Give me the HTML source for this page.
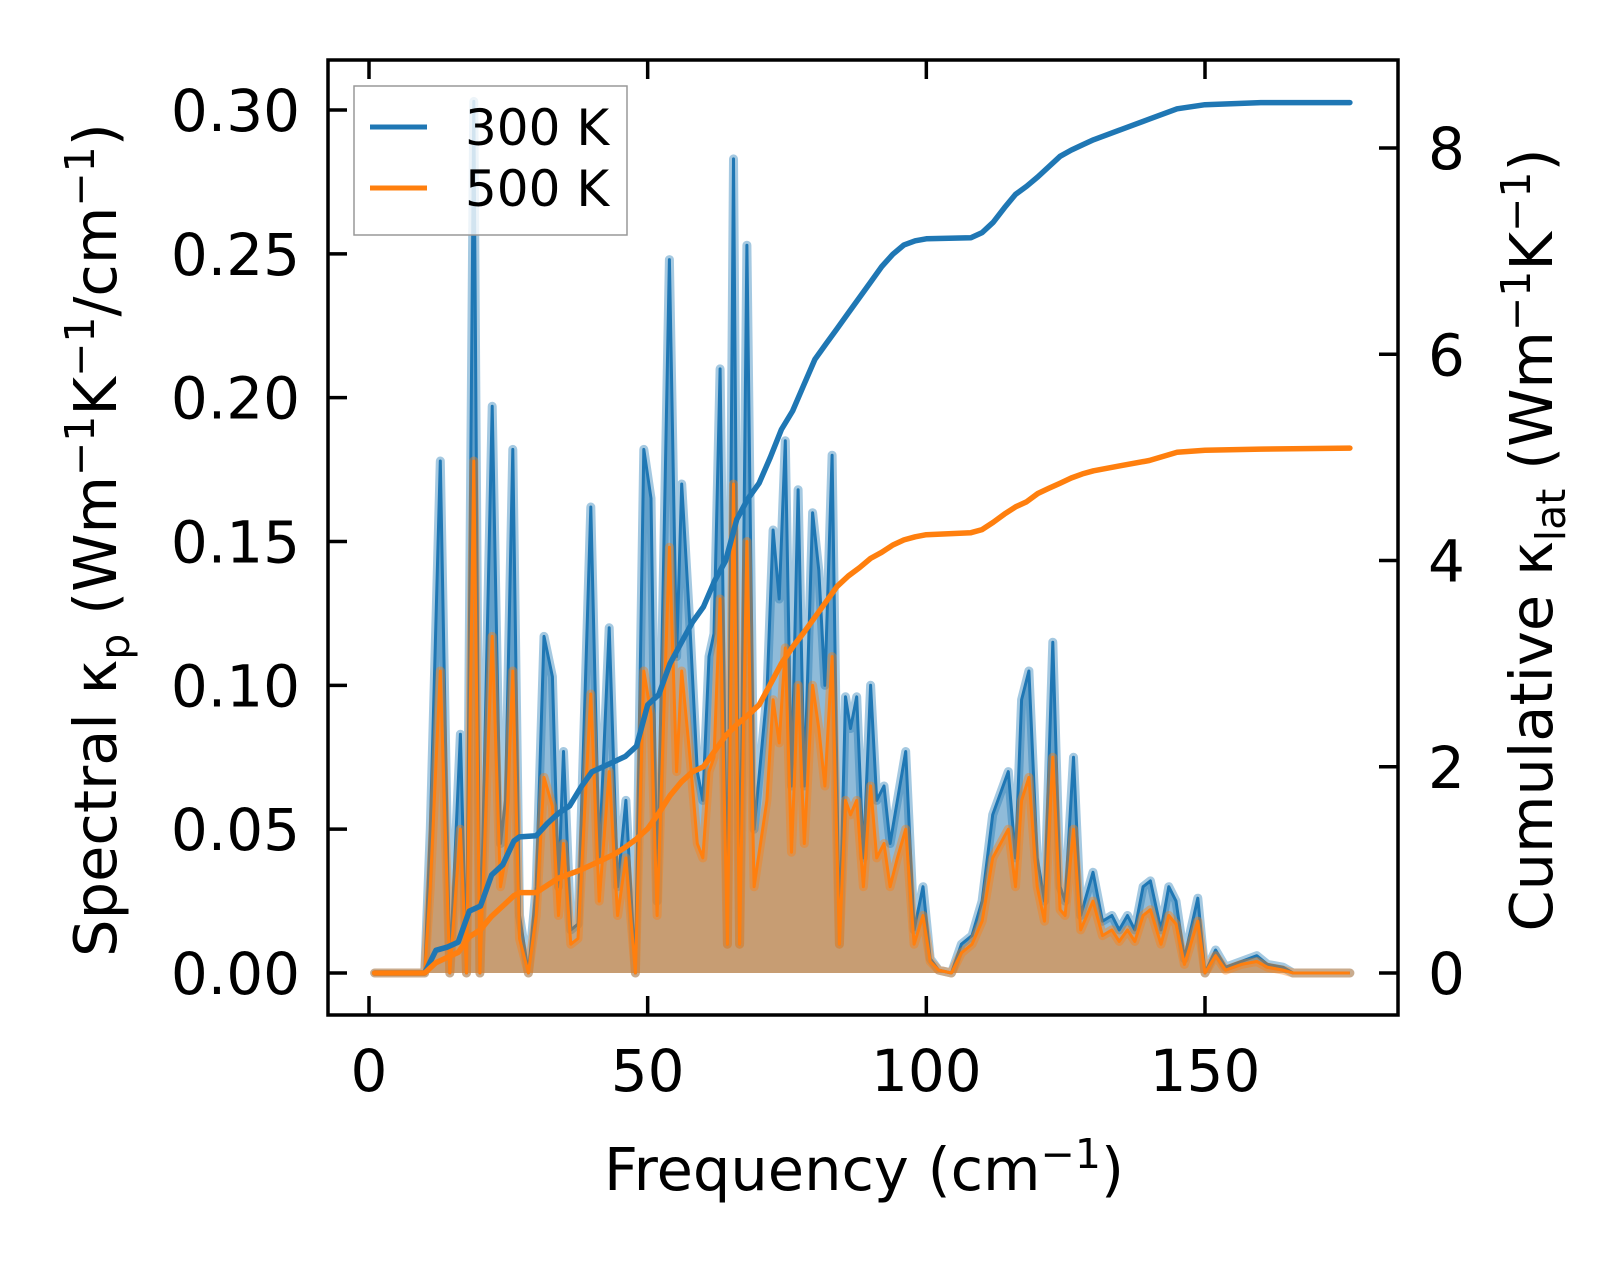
<!DOCTYPE html>
<html><head><meta charset="utf-8"><style>
html,body{margin:0;padding:0;background:#fff;}
svg{display:block;font-family:"DejaVu Sans","Liberation Sans",sans-serif;}
</style></head><body>
<svg id="chart" width="1623" height="1264" viewBox="0 0 1623 1264" xmlns="http://www.w3.org/2000/svg">
<defs><clipPath id="plotclip"><rect x="328" y="60" width="1070" height="955"/></clipPath></defs>
<rect width="1623" height="1264" fill="#fff"/>
<g id="marks" clip-path="url(#plotclip)"></g>
<g id="axes"></g>
<g id="legend">
  <rect x="354" y="86" width="273" height="149" fill="#fff" fill-opacity="0.8" stroke="#999" stroke-width="1.5"/>
  <line x1="370" y1="127" x2="427" y2="127" stroke="#1f77b4" stroke-width="5"/>
  <text x="465" y="145" font-size="50">300 K</text>
  <line x1="370" y1="188" x2="427" y2="188" stroke="#ff7f0e" stroke-width="5"/>
  <text x="465" y="206" font-size="50">500 K</text>
</g>
<text x="864" y="1190" font-size="59" text-anchor="middle">Frequency (cm<tspan dy="-22" font-size="41">−1</tspan><tspan dy="22">)</tspan></text>
<text transform="translate(116,540) rotate(-90)" font-size="59" text-anchor="middle">Spectral κ<tspan dy="13" font-size="41">p</tspan><tspan dy="-13"> (Wm</tspan><tspan dy="-22" font-size="41">−1</tspan><tspan dy="22">K</tspan><tspan dy="-22" font-size="41">−1</tspan><tspan dy="22">/cm</tspan><tspan dy="-22" font-size="41">−1</tspan><tspan dy="22">)</tspan></text>
<text transform="translate(1552,540) rotate(-90)" font-size="59" text-anchor="middle">Cumulative κ<tspan dy="13" font-size="41">lat</tspan><tspan dy="-13"> (Wm</tspan><tspan dy="-22" font-size="41">−1</tspan><tspan dy="22">K</tspan><tspan dy="-22" font-size="41">−1</tspan><tspan dy="22">)</tspan></text>
</svg>
<script>
const freq = [1,10,11,12.8,14.5,16.4,17.5,18.8,19.9,22.1,23.6,24.5,25.8,27,28.6,30,31.4,32.9,34,34.9,36.2,37.5,39.8,41.3,43.1,44.6,46.1,47.8,49.3,50.6,51.7,53.9,55.2,56.1,57.6,58.9,59.9,61,61.9,63,64.3,65.4,66.5,67.8,69.1,71.4,72.5,73.6,74.7,75.8,77,78.1,79.6,80.7,81.8,83.1,84.4,85.5,86.4,87.5,88.7,90,91.1,92.4,93.5,94.8,96.3,97.8,99.4,100.7,102.2,104.5,106.3,108.2,110,111.9,114.7,116,117.1,118.4,119.9,121.2,122.7,124,124.9,126.4,127.7,129.9,131.6,133.3,134.6,136.1,137.4,138.9,140.2,142.1,143.5,144.8,146.3,148.7,150,151.9,153.7,156.5,159.3,161.2,164,165.8,176];
const spec300 = [0,0,0.05,0.178,0,0.083,0,0.303,0,0.197,0.045,0.06,0.182,0.02,0,0.03,0.117,0.103,0.03,0.077,0.015,0.017,0.162,0.04,0.12,0.03,0.06,0,0.182,0.165,0.025,0.248,0.11,0.17,0.12,0.07,0.06,0.11,0.118,0.21,0.01,0.283,0.01,0.253,0.05,0.097,0.154,0.13,0.185,0.065,0.168,0.065,0.16,0.14,0.1,0.18,0.01,0.096,0.085,0.096,0.04,0.1,0.06,0.065,0.045,0.06,0.077,0.015,0.03,0.005,0.001,0,0.01,0.013,0.025,0.055,0.07,0.04,0.095,0.105,0.04,0.025,0.115,0.03,0.025,0.075,0.02,0.035,0.018,0.02,0.015,0.02,0.015,0.03,0.032,0.015,0.03,0.025,0.005,0.026,0,0.008,0.002,0.004,0.006,0.003,0.002,0,0];
const spec500 = [0,0,0.03,0.105,0,0.05,0,0.178,0,0.117,0.03,0.04,0.105,0.012,0,0.02,0.068,0.058,0.02,0.045,0.01,0.012,0.097,0.025,0.07,0.02,0.04,0,0.105,0.09,0.02,0.148,0.07,0.105,0.075,0.045,0.04,0.07,0.075,0.13,0.01,0.17,0.01,0.15,0.03,0.06,0.095,0.08,0.113,0.042,0.1,0.045,0.1,0.085,0.065,0.11,0.01,0.06,0.055,0.06,0.03,0.065,0.04,0.045,0.03,0.04,0.05,0.01,0.02,0.004,0.001,0,0.007,0.01,0.018,0.04,0.05,0.03,0.06,0.068,0.03,0.018,0.075,0.022,0.02,0.05,0.015,0.025,0.013,0.015,0.011,0.015,0.011,0.02,0.022,0.01,0.02,0.017,0.003,0.018,0,0.006,0.001,0.003,0.004,0.002,0.001,0,0];
const cumFreq = [1,10,12,14,16,18,20,22,24,26,27,30,32,34,36,38,40,44,46,48,50,52,54,56,58,60,62,64,66,68,70,72,74,76,78,80,82,84,86,88,90,92,94,96,98,100,108,110,112,114,116,118,120,122,124,126,128,130,135,140,145,150,160,176];
const cum300 = [0,0,0.22,0.25,0.3,0.6,0.65,0.95,1.05,1.28,1.32,1.33,1.45,1.55,1.62,1.8,1.95,2.05,2.1,2.2,2.6,2.7,3.0,3.2,3.4,3.55,3.8,4.0,4.4,4.6,4.75,5.0,5.27,5.45,5.7,5.95,6.1,6.25,6.4,6.55,6.7,6.85,6.97,7.06,7.1,7.12,7.13,7.18,7.28,7.42,7.55,7.63,7.72,7.82,7.92,7.98,8.03,8.08,8.18,8.28,8.38,8.42,8.44,8.44];
const cum500 = [0,0,0.1,0.15,0.2,0.35,0.42,0.55,0.65,0.75,0.78,0.78,0.85,0.92,0.96,1.0,1.05,1.15,1.22,1.3,1.4,1.55,1.72,1.85,1.95,2.0,2.15,2.3,2.41,2.5,2.6,2.8,3.0,3.16,3.3,3.45,3.6,3.75,3.85,3.93,4.02,4.08,4.15,4.2,4.23,4.25,4.27,4.3,4.37,4.45,4.52,4.57,4.65,4.7,4.75,4.8,4.84,4.87,4.92,4.97,5.05,5.07,5.08,5.09];
const xTicks = [0,50,100,150];
const yTicks = [0,0.05,0.10,0.15,0.20,0.25,0.30];
const yTickLabels = ["0.00","0.05","0.10","0.15","0.20","0.25","0.30"];
const y2Ticks = [0,2,4,6,8];

const L=328,R=1398,T=60,B=1015;
const xs = f => 369 + (f-0)*(1205-369)/150;
const ys = v => 973 - v*(973-110)/0.30;
const ys2 = v => 973 - v*(973-148)/8;
const NS="http://www.w3.org/2000/svg";
const marks=document.getElementById('marks'), axes=document.getElementById('axes');
function mk(tag, attrs, parent){const e=document.createElementNS(NS,tag);for(const k in attrs)e.setAttribute(k,attrs[k]);parent.appendChild(e);return e;}
function linePath(xa,ya,fy){return xa.map((f,i)=>(i?'L':'M')+xs(f).toFixed(1)+','+fy(ya[i]).toFixed(1)).join(' ');}
function areaPath(xa,ya,fy){return linePath(xa,ya,fy)+' L'+xs(xa[xa.length-1]).toFixed(1)+','+fy(0).toFixed(1)+' L'+xs(xa[0]).toFixed(1)+','+fy(0).toFixed(1)+' Z';}

const a1=mk('path',{d:areaPath(freq,spec300,ys),fill:'#1f77b4','fill-opacity':0.5},marks);


const h1=mk('path',{d:linePath(freq,spec300,ys),fill:'none',stroke:'#1f77b4','stroke-opacity':0.4,'stroke-width':9,'stroke-linejoin':'round','stroke-linecap':'round'},marks);


const l1=mk('path',{d:linePath(freq,spec300,ys),fill:'none',stroke:'#1f77b4','stroke-width':3,'stroke-linejoin':'round'},marks);


const a2=mk('path',{d:areaPath(freq,spec500,ys),fill:'#ff7f0e','fill-opacity':0.5},marks);


const h2=mk('path',{d:linePath(freq,spec500,ys),fill:'none',stroke:'#ff7f0e','stroke-opacity':0.4,'stroke-width':9,'stroke-linejoin':'round','stroke-linecap':'round'},marks);


const l2=mk('path',{d:linePath(freq,spec500,ys),fill:'none',stroke:'#ff7f0e','stroke-width':3,'stroke-linejoin':'round'},marks);


const c1=mk('path',{d:linePath(cumFreq,cum300,ys2),fill:'none',stroke:'#1f77b4','stroke-width':5.5,'stroke-linejoin':'round','stroke-linecap':'round'},marks);


const c2=mk('path',{d:linePath(cumFreq,cum500,ys2),fill:'none',stroke:'#ff7f0e','stroke-width':5.5,'stroke-linejoin':'round','stroke-linecap':'round'},marks);



xTicks.forEach(t=>{
  const x=xs(t);
  const tb=mk('line',{x1:x,y1:B,x2:x,y2:B-19,stroke:'#000','stroke-width':3.5},axes);
  
  
  const tt=mk('line',{x1:x,y1:T,x2:x,y2:T+19,stroke:'#000','stroke-width':3.5},axes);
  
  
  const lb=mk('text',{x:x,y:1091,'font-size':58,'text-anchor':'middle'},axes);
  lb.textContent=String(t);
  
  
});
yTicks.forEach((t,i)=>{
  const y=ys(t);
  const tk=mk('line',{x1:L,y1:y,x2:L+19,y2:y,stroke:'#000','stroke-width':3.5},axes);
  
  
  const lb=mk('text',{x:300,y:y+21,'font-size':58,'text-anchor':'end'},axes);
  lb.textContent=yTickLabels[i];
  
  
});
y2Ticks.forEach(t=>{
  const y=ys2(t);
  const tk=mk('line',{x1:R,y1:y,x2:R-19,y2:y,stroke:'#000','stroke-width':3.5},axes);
  
  
  const lb=mk('text',{x:1428,y:y+21,'font-size':58,'text-anchor':'start'},axes);
  lb.textContent=String(t);
  
  
});
const fr=mk('rect',{x:L,y:T,width:R-L,height:B-T,fill:'none',stroke:'#000','stroke-width':3.5},axes);


</script>
</body></html>
